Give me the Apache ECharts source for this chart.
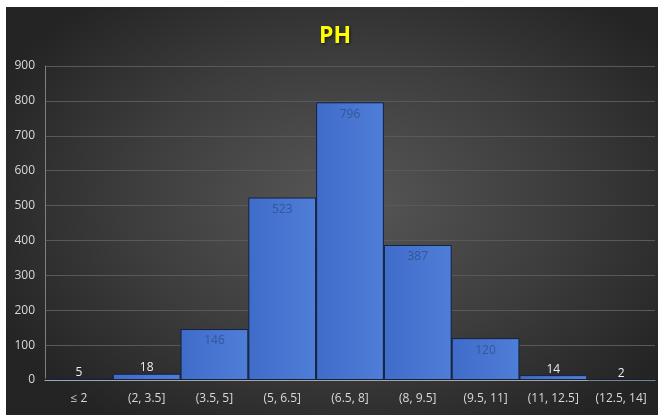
<!DOCTYPE html>
<html>
<head>
<meta charset="utf-8">
<script src="https://cdn.jsdelivr.net/npm/echarts@6/dist/echarts.min.js"></script>
<style>
  html, body { margin: 0; padding: 0; background: #ffffff; width: 658px; height: 415px; overflow: hidden; }
  #chart {
    position: absolute; left: 6px; top: 7px; width: 652px; height: 408px;
    background: radial-gradient(ellipse 60% 65% at 52% 48%, #575757 0%, #3d3d3d 55%, #242424 100%);
  }
</style>
</head>
<body>
<div id="chart"></div>
<script>
// pH value bins and counts
const categories = ['≤ 2', '(2, 3.5]', '(3.5, 5]', '(5, 6.5]', '(6.5, 8]', '(8, 9.5]', '(9.5, 11]', '(11, 12.5]', '(12.5, 14]'];
const counts = [5, 18, 146, 523, 796, 387, 120, 14, 2];
const yTicks = [0, 100, 200, 300, 400, 500, 600, 700, 800, 900];

const FONT = 'Open Sans, Liberation Sans, sans-serif';
const chart = echarts.init(document.getElementById('chart'), null, { renderer: 'canvas' });

// short bars carry their label above, tall ones inside the top
const barData = counts.map(v => {
  const small = v < 60;
  return {
    value: v,
    label: small
      ? { position: 'top', distance: 0, color: '#e8eef8' }
      : { position: 'insideTop', distance: 6, color: '#34569a' }
  };
});

chart.setOption({
  backgroundColor: 'transparent',
  animation: false,
  title: {
    text: 'PH',
    left: 308,
    top: 13,
    textStyle: {
      color: '#ffff00',
      fontSize: 23,
      fontWeight: 'bold',
      fontFamily: FONT,
      textShadowColor: 'rgba(0,0,0,0.6)',
      textShadowBlur: 3,
      textShadowOffsetX: 1,
      textShadowOffsetY: 1
    }
  },
  grid: { left: 39, right: 3, top: 59, bottom: 35 },
  xAxis: {
    type: 'category',
    data: categories,
    axisLine: { lineStyle: { color: '#a6a6a6', width: 1 } },
    axisTick: { show: false },
    axisLabel: {
      color: '#d9d9d9',
      fontSize: 12,
      margin: 13,
      interval: 0,
      fontFamily: FONT
    }
  },
  yAxis: {
    type: 'value',
    min: yTicks[0],
    max: yTicks[yTicks.length - 1],
    interval: 100,
    axisLine: { show: true, lineStyle: { color: '#7f7f7f' } },
    axisTick: { show: false },
    axisLabel: {
      color: '#d9d9d9',
      fontSize: 12,
      margin: 10,
      fontFamily: FONT
    },
    splitLine: { lineStyle: { color: '#595959', width: 1 } }
  },
  series: [{
    type: 'bar',
    data: barData,
    barCategoryGap: '0%',
    itemStyle: {
      color: new echarts.graphic.LinearGradient(0, 0, 1, 0, [
        { offset: 0, color: '#3f6cc9' },
        { offset: 1, color: '#4f7ed8' }
      ]),
      borderColor: '#14213f',
      borderWidth: 1
    },
    label: {
      show: true,
      fontSize: 12,
      fontFamily: FONT
    }
  }]
});
</script>
</body>
</html>
